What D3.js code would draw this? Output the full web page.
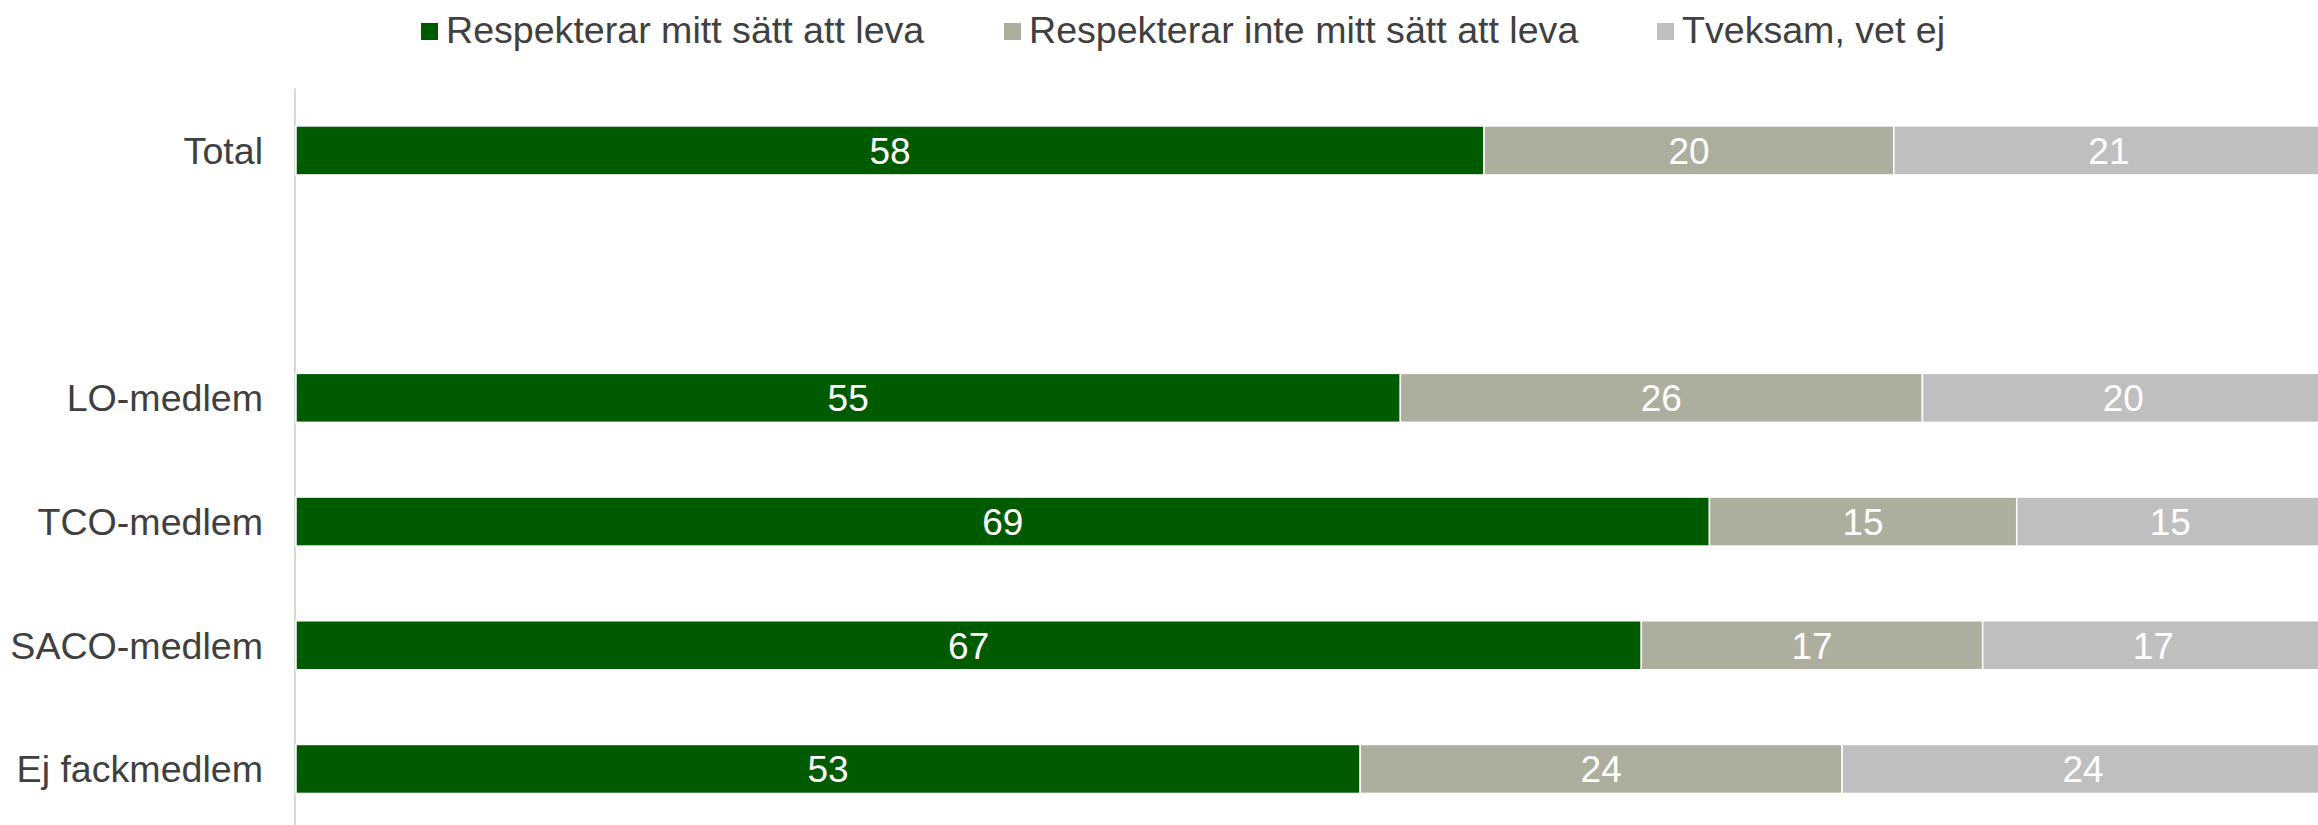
<!DOCTYPE html>
<html>
<head>
<meta charset="utf-8">
<script src="https://cdn.jsdelivr.net/npm/d3@7"></script>
<style>
  html, body { margin: 0; padding: 0; background: #ffffff; }
  svg { display: block; font-family: "Liberation Sans", Arial, sans-serif; }
</style>
</head>
<body>
<svg id="chart" width="2318" height="825"></svg>
<script>
// ---- data ----
const categories = ["Total", "", "LO-medlem", "TCO-medlem", "SACO-medlem", "Ej fackmedlem"];
const seriesNames = ["Respekterar mitt sätt att leva", "Respekterar inte mitt sätt att leva", "Tveksam, vet ej"];
const respekterar = [58, null, 55, 69, 67, 53];
const respekterarInte = [20, null, 26, 15, 17, 24];
const tveksam = [21, null, 20, 15, 17, 24];
const colors = ["#005a00", "#adae9e", "#bfbfbf"];

// ---- build table ----
const keys = ["a", "b", "c"];
const rows = categories.map((c, i) => ({
  cat: c,
  a: respekterar[i] || 0,
  b: respekterarInte[i] || 0,
  c: tveksam[i] || 0,
  empty: respekterar[i] == null
}));

const svg = d3.select("#chart");
const W = 2318, H = 825;

const x = d3.scaleLinear().domain([0, 1]).range([296, 2324]);
const y = d3.scaleBand().domain(categories.map((c, i) => i))
  .range([88.6, 830.8]).paddingInner(0.604).paddingOuter(0.302);

const stack = d3.stack().keys(keys).offset(d3.stackOffsetExpand);
const series = stack(rows.filter(r => !r.empty));
const idxOf = r => rows.indexOf(r);

// axis line
svg.append("line")
  .attr("x1", 295).attr("x2", 295)
  .attr("y1", y.range()[0]).attr("y2", H)
  .attr("stroke", "#d9d9d9").attr("stroke-width", 2);

const g = svg.append("g");
series.forEach((s, si) => {
  const grp = g.append("g");
  grp.selectAll("rect").data(s).join("rect")
    .attr("x", d => x(d[0]))
    .attr("width", d => x(d[1]) - x(d[0]))
    .attr("y", d => y(idxOf(d.data)))
    .attr("height", y.bandwidth())
    .attr("fill", colors[si])
    .attr("stroke", "#ffffff")
    .attr("stroke-width", 1.5);
  grp.selectAll("text").data(s).join("text")
    .attr("x", d => (x(d[0]) + x(d[1])) / 2)
    .attr("y", d => y(idxOf(d.data)) + y.bandwidth() / 2)
    .attr("dy", "0.36em")
    .attr("text-anchor", "middle")
    .attr("fill", "#ffffff")
    .attr("font-size", "37px")
    .text(d => d.data[keys[si]]);
});

// category labels
const yAxis = d3.axisLeft(y).tickSize(0).tickPadding(0).tickFormat(i => categories[i]);
const ax = svg.append("g").attr("transform", "translate(263,0)").call(yAxis);
ax.select(".domain").remove();
ax.selectAll("text")
  .attr("font-family", "\"Liberation Sans\", Arial, sans-serif")
  .attr("font-size", "37.6px")
  .attr("fill", "#404040")
  .attr("dy", "0.36em");

// legend
const legendX = [421, 1004, 1657];
const lg = svg.append("g");
seriesNames.forEach((n, i) => {
  lg.append("rect").attr("x", legendX[i]).attr("y", 23).attr("width", 17).attr("height", 17)
    .attr("fill", colors[i]);
  lg.append("text").attr("x", legendX[i] + 25).attr("y", 42.7)
    .attr("font-size", "37.6px").attr("fill", "#404040").text(n);
});
</script>
</body>
</html>
